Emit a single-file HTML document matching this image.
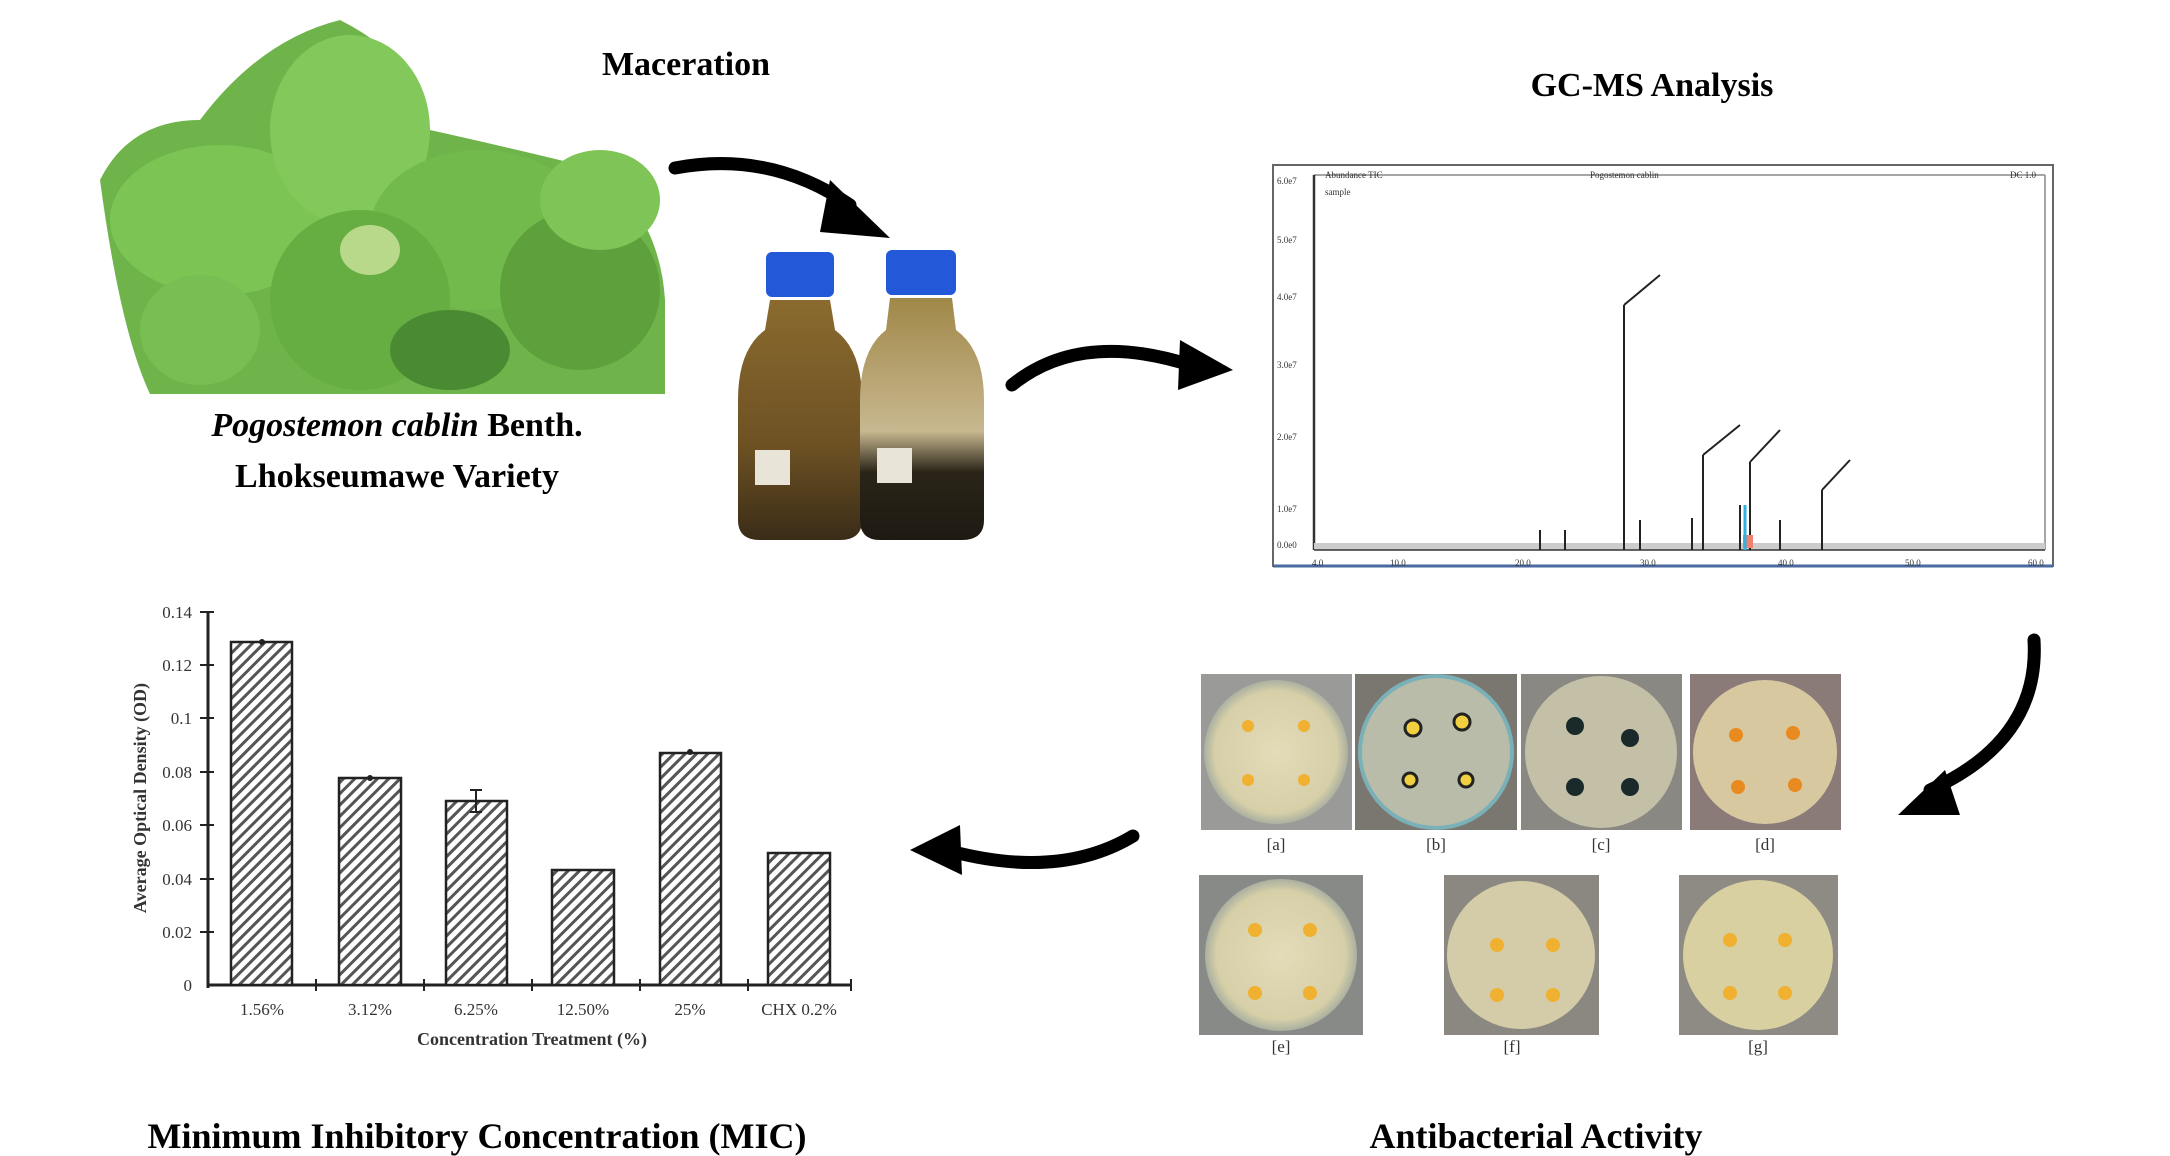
<!DOCTYPE html>
<html><head><meta charset="utf-8"><style>
html,body{margin:0;padding:0;background:#fff;}
svg{display:block}
text{font-family:"Liberation Serif",serif;}
</style></head><body>
<svg width="2170" height="1156" viewBox="0 0 2170 1156" xmlns="http://www.w3.org/2000/svg">
<defs>
<pattern id="hatch" width="8" height="8" patternUnits="userSpaceOnUse" patternTransform="rotate(45)">
<rect width="8" height="8" fill="#fff"/><rect width="3" height="8" fill="#555"/></pattern>
<radialGradient id="dish" cx="50%" cy="50%" r="50%"><stop offset="0" stop-color="#e4dcb8"/><stop offset="0.85" stop-color="#d6cfa8"/><stop offset="1" stop-color="#aab0a0"/></radialGradient>
<linearGradient id="brown1" x1="0" x2="0" y1="0" y2="1"><stop offset="0" stop-color="#8a6a2e"/><stop offset="0.6" stop-color="#6e5224"/><stop offset="1" stop-color="#3a2c18"/></linearGradient>
<linearGradient id="brown2" x1="0" x2="0" y1="0" y2="1"><stop offset="0" stop-color="#a08848"/><stop offset="0.55" stop-color="#c8b890"/><stop offset="0.72" stop-color="#2a2418"/><stop offset="1" stop-color="#1e1a12"/></linearGradient>
</defs>

<!-- plant -->
<g>
<path d="M100 180 Q130 120 200 120 Q260 40 340 20 Q420 60 430 130 Q520 150 600 170 Q660 220 665 300 L665 394 L150 394 Q120 330 100 180Z" fill="#6fb44a"/>
<ellipse cx="220" cy="220" rx="110" ry="75" fill="#7cc453"/>
<ellipse cx="350" cy="130" rx="80" ry="95" fill="#83c85a"/>
<ellipse cx="480" cy="230" rx="110" ry="80" fill="#72ba4c"/>
<ellipse cx="360" cy="300" rx="90" ry="90" fill="#66ad42"/>
<ellipse cx="580" cy="290" rx="80" ry="80" fill="#5da03c"/>
<ellipse cx="200" cy="330" rx="60" ry="55" fill="#78be52"/>
<ellipse cx="450" cy="350" rx="60" ry="40" fill="#4a8a32"/>
<ellipse cx="600" cy="200" rx="60" ry="50" fill="#7ec456"/>
<ellipse cx="370" cy="250" rx="30" ry="25" fill="#b8d98a"/>
</g>
<text x="686" y="75" font-size="34" font-weight="bold" text-anchor="middle">Maceration</text>
<text x="397" y="436" font-size="34" font-weight="bold" text-anchor="middle"><tspan font-style="italic">Pogostemon cablin</tspan> Benth.</text>
<text x="397" y="487" font-size="34" font-weight="bold" text-anchor="middle">Lhokseumawe Variety</text>

<!-- bottles -->
<g>
<rect x="766" y="252" width="68" height="45" rx="6" fill="#2358d8"/>
<path d="M770 300 L830 300 L835 330 Q862 350 862 400 L862 520 Q862 540 840 540 L760 540 Q738 540 738 520 L738 400 Q738 350 765 330Z" fill="url(#brown1)"/>
<rect x="886" y="250" width="70" height="45" rx="6" fill="#2358d8"/>
<path d="M890 298 L952 298 L956 330 Q984 350 984 400 L984 520 Q984 540 962 540 L880 540 Q860 540 860 520 L860 400 Q860 350 886 330Z" fill="url(#brown2)"/>
<rect x="755" y="450" width="35" height="35" fill="#e8e4d8"/>
<rect x="877" y="448" width="35" height="35" fill="#e8e4d8"/>
</g>

<!-- arrows -->
<g fill="none" stroke="#000" stroke-width="13" stroke-linecap="round">
<path d="M675 168 Q770 150 850 205"/>
<path d="M1012 385 Q1080 330 1190 365"/>
<path d="M2034 640 Q2040 740 1930 790"/>
<path d="M1133 836 Q1060 880 950 851"/>
</g>
<g fill="#000">
<polygon points="830,180 890,238 820,232"/>
<polygon points="1180,340 1233,370 1178,390"/>
<polygon points="1945,770 1898,815 1960,815"/>
<polygon points="960,825 910,850 962,875"/>
</g>

<text x="1652" y="96" font-size="34" font-weight="bold" text-anchor="middle">GC-MS Analysis</text>
<!-- GC chart -->
<g font-family="Liberation Sans" >
<rect x="1273" y="165" width="780" height="401" fill="#fff" stroke="#666" stroke-width="2"/>
<line x1="1273" y1="566" x2="2053" y2="566" stroke="#4a6aa0" stroke-width="3"/>
<line x1="1314" y1="175" x2="2045" y2="175" stroke="#888" stroke-width="1.5"/>
<line x1="2045" y1="175" x2="2045" y2="550" stroke="#888" stroke-width="1.5"/>
<line x1="1314" y1="175" x2="1314" y2="550" stroke="#333" stroke-width="2.5"/>
<rect x="1314" y="543" width="731" height="7" fill="#ccc"/>
<line x1="1314" y1="550" x2="2045" y2="550" stroke="#333" stroke-width="1.5"/>
<g font-size="9" fill="#333">
<text x="1277" y="184">6.0e7</text><text x="1277" y="243">5.0e7</text><text x="1277" y="300">4.0e7</text><text x="1277" y="368">3.0e7</text><text x="1277" y="440">2.0e7</text><text x="1277" y="512">1.0e7</text><text x="1277" y="548">0.0e0</text>
<text x="1325" y="178">Abundance TIC</text><text x="1590" y="178">Pogostemon cablin</text><text x="2010" y="178">DC 1.0</text>
<text x="1325" y="195">sample</text>
<text x="1312" y="566">4.0</text><text x="1390" y="566">10.0</text><text x="1515" y="566">20.0</text><text x="1640" y="566">30.0</text><text x="1778" y="566">40.0</text><text x="1905" y="566">50.0</text><text x="2028" y="566">60.0</text>
</g>
<g stroke="#222" stroke-width="2">
<line x1="1624" y1="550" x2="1624" y2="305"/><line x1="1624" y1="305" x2="1660" y2="275"/>
<line x1="1703" y1="550" x2="1703" y2="455"/><line x1="1703" y1="455" x2="1740" y2="425"/>
<line x1="1750" y1="550" x2="1750" y2="462"/><line x1="1750" y1="462" x2="1780" y2="430"/>
<line x1="1692" y1="550" x2="1692" y2="518"/><line x1="1780" y1="550" x2="1780" y2="520"/>
<line x1="1822" y1="550" x2="1822" y2="490"/><line x1="1822" y1="490" x2="1850" y2="460"/>
<line x1="1540" y1="550" x2="1540" y2="530"/><line x1="1565" y1="550" x2="1565" y2="530"/>
<line x1="1740" y1="550" x2="1740" y2="505"/><line x1="1640" y1="550" x2="1640" y2="520"/>
</g>
<rect x="1743" y="535" width="10" height="13" fill="#f08070"/>
<line x1="1745" y1="550" x2="1745" y2="505" stroke="#30b0e0" stroke-width="3"/>
</g>

<!-- bar chart -->
<g font-size="17" fill="#333">
<line x1="208" y1="612" x2="208" y2="988" stroke="#222" stroke-width="3"/>
<line x1="208" y1="985" x2="851" y2="985" stroke="#222" stroke-width="3"/>
<g stroke="#222" stroke-width="2">
<line x1="200" y1="612" x2="214" y2="612"/><line x1="200" y1="665" x2="214" y2="665"/><line x1="200" y1="718" x2="214" y2="718"/><line x1="200" y1="772" x2="214" y2="772"/><line x1="200" y1="825" x2="214" y2="825"/><line x1="200" y1="879" x2="214" y2="879"/><line x1="200" y1="932" x2="214" y2="932"/>
<line x1="316" y1="979" x2="316" y2="991"/><line x1="424" y1="979" x2="424" y2="991"/><line x1="532" y1="979" x2="532" y2="991"/><line x1="640" y1="979" x2="640" y2="991"/><line x1="748" y1="979" x2="748" y2="991"/><line x1="851" y1="979" x2="851" y2="991"/>
</g>
<g text-anchor="end">
<text x="192" y="618">0.14</text><text x="192" y="671">0.12</text><text x="192" y="724">0.1</text><text x="192" y="778">0.08</text><text x="192" y="831">0.06</text><text x="192" y="885">0.04</text><text x="192" y="938">0.02</text><text x="192" y="991">0</text>
</g>
<g stroke="#222" stroke-width="2.5" fill="url(#hatch)">
<rect x="231" y="642" width="61" height="343"/>
<rect x="339" y="778" width="62" height="207"/>
<rect x="446" y="801" width="61" height="184"/>
<rect x="552" y="870" width="62" height="115"/>
<rect x="660" y="753" width="61" height="232"/>
<rect x="768" y="853" width="62" height="132"/>
</g>
<circle cx="262" cy="642" r="3" fill="#222"/><circle cx="370" cy="778" r="3" fill="#222"/><circle cx="690" cy="752" r="3" fill="#222"/>
<path d="M476 790 V812 M470 790 H482 M470 812 H482" stroke="#222" stroke-width="2"/>
<g text-anchor="middle">
<text x="262" y="1015">1.56%</text><text x="370" y="1015">3.12%</text><text x="476" y="1015">6.25%</text><text x="583" y="1015">12.50%</text><text x="690" y="1015">25%</text><text x="799" y="1015">CHX 0.2%</text>
<text x="532" y="1045" font-weight="bold" font-size="18">Concentration Treatment (%)</text>
<text transform="translate(146,798) rotate(-90)" font-weight="bold" font-size="18">Average Optical Density (OD)</text>
</g>
</g>
<text x="477" y="1148" font-size="36" font-weight="bold" text-anchor="middle">Minimum Inhibitory Concentration (MIC)</text>
<text x="1536" y="1148" font-size="36" font-weight="bold" text-anchor="middle">Antibacterial Activity</text>

<!-- petri dishes -->
<g>
<rect x="1201" y="674" width="151" height="156" fill="#9a9a98"/><circle cx="1276" cy="752" r="72" fill="url(#dish)"/>
<rect x="1355" y="674" width="162" height="156" fill="#7a7670"/><circle cx="1436" cy="752" r="76" fill="#b8bca8" stroke="#7ab0b8" stroke-width="4"/>
<rect x="1521" y="674" width="161" height="156" fill="#8a8882"/><circle cx="1601" cy="752" r="76" fill="#c4c0a8"/>
<rect x="1690" y="674" width="151" height="156" fill="#8a7a78"/><circle cx="1765" cy="752" r="72" fill="#d8c8a0"/>
<rect x="1199" y="875" width="164" height="160" fill="#888a88"/><circle cx="1281" cy="955" r="76" fill="url(#dish)"/>
<rect x="1444" y="875" width="155" height="160" fill="#8a8880"/><circle cx="1521" cy="955" r="74" fill="#d4cca8"/>
<rect x="1679" y="875" width="159" height="160" fill="#8e8a84"/><circle cx="1758" cy="955" r="75" fill="#d8d0a0"/>
<g fill="#f0b030">
<circle cx="1248" cy="726" r="6"/><circle cx="1304" cy="726" r="6"/><circle cx="1248" cy="780" r="6"/><circle cx="1304" cy="780" r="6"/>
<circle cx="1736" cy="735" r="7" fill="#e88a20"/><circle cx="1793" cy="733" r="7" fill="#e88a20"/><circle cx="1738" cy="787" r="7" fill="#e88a20"/><circle cx="1795" cy="785" r="7" fill="#e88a20"/>
<circle cx="1255" cy="930" r="7"/><circle cx="1310" cy="930" r="7"/><circle cx="1255" cy="993" r="7"/><circle cx="1310" cy="993" r="7"/>
<circle cx="1497" cy="945" r="7"/><circle cx="1553" cy="945" r="7"/><circle cx="1497" cy="995" r="7"/><circle cx="1553" cy="995" r="7"/>
<circle cx="1730" cy="940" r="7"/><circle cx="1785" cy="940" r="7"/><circle cx="1730" cy="993" r="7"/><circle cx="1785" cy="993" r="7"/>
</g>
<g fill="#f0d040" stroke="#222" stroke-width="3">
<circle cx="1413" cy="728" r="8"/><circle cx="1462" cy="722" r="8"/><circle cx="1410" cy="780" r="7"/><circle cx="1466" cy="780" r="7"/>
</g>
<g fill="#1a2a2a"><circle cx="1575" cy="726" r="9"/><circle cx="1630" cy="738" r="9"/><circle cx="1575" cy="787" r="9"/><circle cx="1630" cy="787" r="9"/></g>
<g font-size="17" fill="#333" text-anchor="middle">
<text x="1276" y="850">[a]</text><text x="1436" y="850">[b]</text><text x="1601" y="850">[c]</text><text x="1765" y="850">[d]</text>
<text x="1281" y="1052">[e]</text><text x="1512" y="1052">[f]</text><text x="1758" y="1052">[g]</text>
</g>
</g>
</svg>
</body></html>
